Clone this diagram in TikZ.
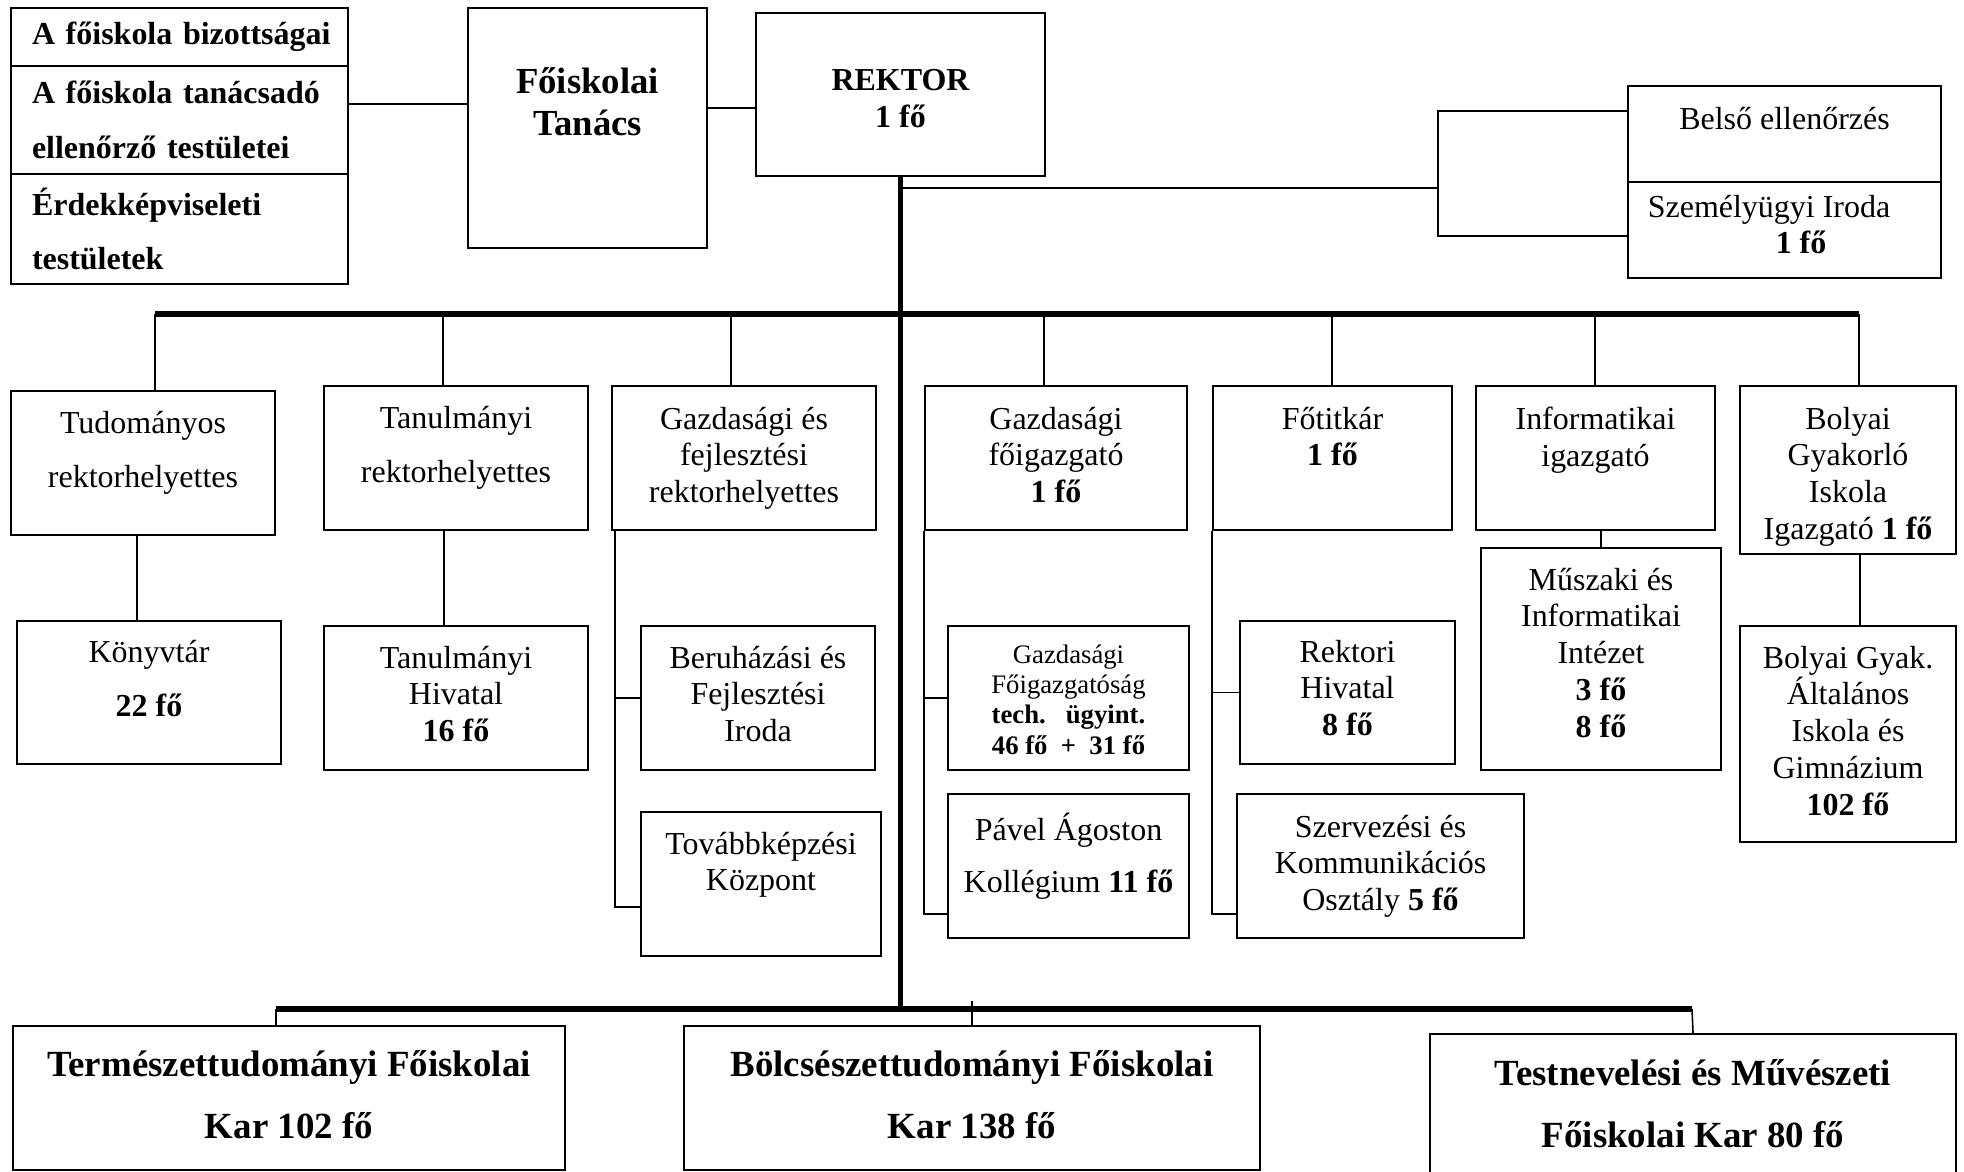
\documentclass[tikz,border=0pt]{standalone}
\usepackage{fontspec}
\setmainfont{Liberation Serif}
\tikzset{
every picture/.style={
line width=0.45pt
}}
\usetikzlibrary{positioning}

\begin{document}
\begin{tikzpicture}[
block/.style = {rectangle, draw=black, line width=0.57pt, inner sep=0pt, anchor=north west},
stack/.style = {block, align=left, text width=2.95cm, inner xsep=0.21cm, font=\fontsize{9.1}{15.6}\selectfont\bfseries},
txt/.style = {align=center, inner sep=0pt, font=\fontsize{9.1}{10.5}\selectfont},
txtwide/.style = {txt, font=\fontsize{9.1}{15.6}\selectfont},
txtbig/.style = {txt, font=\fontsize{10.5}{17.6}\selectfont\bfseries},
trunk/.style = {line width=1.45pt},
node distance = 0.2cm]

  \useasboundingbox (0,0) rectangle (19.64,-11.71);

  \node[stack, minimum height=0.58cm] (bod_a) at (0.10,-0.07) {\mbox{A főiskola bizottságai}};
  \node[stack, minimum height=1.08cm] (bod_b) at (0.10,-0.65) {\mbox{A főiskola tanácsadó}\\\mbox{ellenőrző testületei}};
  \node[stack, minimum height=1.10cm] (bod_c) at (0.10,-1.73) {Érdekképviseleti\\testületek};

  \node[block, minimum width=2.39cm, minimum height=2.40cm] (tanacs) at (4.67,-0.07) {};
  \node[txt, font=\fontsize{10.45}{12}\selectfont\bfseries] (tanacs_t) [below=0.60cm of tanacs.north] {Főiskolai\\Tanács};
  \node[block, minimum width=2.89cm, minimum height=1.63cm] (rektor) at (7.55,-0.12) {};
  \node[txt, font=\fontsize{9.1}{10.5}\selectfont\bfseries] (rektor_t) [below=0.57cm of rektor.north] {REKTOR\\1 fő};

  \node[block, minimum width=3.13cm, minimum height=0.96cm] (belso) at (16.27,-0.85) {};
  \node[txt] (belso_t) [below=0.21cm of belso.north] {Belső ellenőrzés};
  \node[block, minimum width=3.13cm, minimum height=0.96cm] (szemely) at (16.27,-1.81) {};
  \node[txt, align=left] (szemely_t) [below right=0.13cm and 0.20cm of szemely.north west] {Személyügyi Iroda\\\hspace*{4em}\textbf{1 fő}};

  \coordinate (lvl_a) at (0,-1.04);
  \coordinate (lvl_b) at (0,-1.08);
  \draw (bod_b.east |- lvl_a) -- (tanacs.west |- lvl_a);
  \draw (tanacs.east |- lvl_b) -- (rektor.west |- lvl_b);

  \coordinate (brk_top) at (14.38,-1.11);
  \coordinate (brk_mid) at (14.38,-1.88);
  \coordinate (brk_bot) at (14.38,-2.36);
  \draw (belso.west |- brk_top) -- (brk_top) -- (brk_bot) -- (szemely.west |- brk_bot);
  \draw (rektor.south |- brk_mid) -- (brk_mid);

  \coordinate (bus_a) at (1.55,-3.14);
  \coordinate (bus_b) at (4.43,-3.14);
  \coordinate (bus_c) at (7.31,-3.14);
  \coordinate (bus_d) at (10.44,-3.14);
  \coordinate (bus_e) at (13.32,-3.14);
  \coordinate (bus_f) at (15.95,-3.14);
  \coordinate (bus_g) at (18.59,-3.14);
  \coordinate (bot_a) at (2.76,-10.09);
  \coordinate (bot_c) at (16.92,-10.09);

  \draw[trunk] (bus_a) -- (bus_g);
  \draw[trunk] (rektor.south) -- (rektor.south |- bot_a);
  \draw[trunk, line width=1.6pt] (bot_a) -- (bot_c);

  \node[block, minimum width=2.64cm, minimum height=1.44cm] (tud_rh) at (0.10,-3.90) {};
  \node[txtwide] (tud_rh_t) [below=0.20cm of tud_rh.north] {Tudományos\\rektorhelyettes};
  \node[block, minimum width=2.64cm, minimum height=1.44cm] (tan_rh) at (3.23,-3.85) {};
  \node[txtwide] (tan_rh_t) [below=0.20cm of tan_rh.north] {Tanulmányi\\rektorhelyettes};
  \node[block, minimum width=2.64cm, minimum height=1.44cm] (gf_rh) at (6.11,-3.85) {};
  \node[txt] (gf_rh_t) [below=0.21cm of gf_rh.north] {Gazdasági és\\fejlesztési\\rektorhelyettes};
  \node[block, minimum width=2.62cm, minimum height=1.44cm] (g_foig) at (9.24,-3.85) {};
  \node[txt] (g_foig_t) [below=0.21cm of g_foig.north] {Gazdasági\\főigazgató\\\textbf{1 fő}};
  \node[block, minimum width=2.39cm, minimum height=1.44cm] (fotitkar) at (12.12,-3.85) {};
  \node[txt] (fotitkar_t) [below=0.21cm of fotitkar.north] {Főtitkár\\\textbf{1 fő}};
  \node[block, minimum width=2.39cm, minimum height=1.44cm] (inf_ig) at (14.75,-3.85) {};
  \node[txt] (inf_ig_t) [below=0.21cm of inf_ig.north] {Informatikai\\igazgató};
  \node[block, minimum width=2.16cm, minimum height=1.68cm] (bolyai) at (17.39,-3.85) {};
  \node[txt] (bolyai_t) [below=0.21cm of bolyai.north] {Bolyai\\Gyakorló\\Iskola\\Igazgató \textbf{1 fő}};

  \draw (bus_a) -- (bus_a |- tud_rh.north);
  \draw (bus_b) -- (bus_b |- tan_rh.north);
  \draw (bus_c) -- (bus_c |- gf_rh.north);
  \draw (bus_d) -- (bus_d |- g_foig.north);
  \draw (bus_e) -- (bus_e |- fotitkar.north);
  \draw (bus_f) -- (bus_f |- inf_ig.north);
  \draw (bus_g) -- (bus_g |- bolyai.north);

  \node[block, minimum width=2.64cm, minimum height=1.43cm] (konyvtar) at (0.16,-6.20) {};
  \node[txtwide] (konyvtar_t) [below=0.19cm of konyvtar.north] {Könyvtár\\\textbf{22 fő}};
  \node[block, minimum width=2.64cm, minimum height=1.44cm] (tan_hiv) at (3.23,-6.25) {};
  \node[txt] (tan_hiv_t) [below=0.20cm of tan_hiv.north] {Tanulmányi\\Hivatal\\\textbf{16 fő}};
  \node[block, minimum width=2.34cm, minimum height=1.44cm] (beruh) at (6.40,-6.25) {};
  \node[txt] (beruh_t) [below=0.20cm of beruh.north] {Beruházási és\\Fejlesztési\\Iroda};
  \node[block, minimum width=2.40cm, minimum height=1.44cm] (tovabb) at (6.40,-8.11) {};
  \node[txt] (tovabb_t) [below=0.20cm of tovabb.north] {Továbbképzési\\Központ};
  \node[block, minimum width=2.41cm, minimum height=1.44cm] (g_foigsag) at (9.47,-6.25) {};
  \node[txt, font=\fontsize{7.6}{8.6}\selectfont] (g_foigsag_t) [below=0.19cm of g_foigsag.north] {Gazdasági\\Főigazgatóság\\\textbf{tech.\hspace{0.75em}ügyint.}\\\textbf{46 fő\hspace{0.5em}+\hspace{0.5em}31 fő}};
  \node[block, minimum width=2.41cm, minimum height=1.44cm] (pavel) at (9.47,-7.93) {};
  \node[txt, font=\fontsize{9.1}{14.8}\selectfont] (pavel_t) [below=0.19cm of pavel.north] {Pável Ágoston\\Kollégium \textbf{11 fő}};
  \node[block, minimum width=2.15cm, minimum height=1.43cm] (rekt_hiv) at (12.39,-6.20) {};
  \node[txt] (rekt_hiv_t) [below=0.19cm of rekt_hiv.north] {Rektori\\Hivatal\\\textbf{8 fő}};
  \node[block, minimum width=2.87cm, minimum height=1.44cm] (szerv) at (12.36,-7.93) {};
  \node[txt] (szerv_t) [below=0.21cm of szerv.north] {Szervezési és\\Kommunikációs\\Osztály \textbf{5 fő}};
  \node[block, minimum width=2.40cm, minimum height=2.22cm] (muszaki) at (14.80,-5.47) {};
  \node[txt] (muszaki_t) [below=0.20cm of muszaki.north] {Műszaki és\\Informatikai\\Intézet\\\textbf{3 fő}\\\textbf{8 fő}};
  \node[block, minimum width=2.16cm, minimum height=2.16cm] (bolyai_isk) at (17.39,-6.25) {};
  \node[txt] (bolyai_isk_t) [below=0.20cm of bolyai_isk.north] {Bolyai Gyak.\\Általános\\Iskola és\\Gimnázium\\\textbf{102 fő}};

  \coordinate (gf_sp) at (6.15,-9.07);
  \coordinate (gfo_sp) at (9.24,-9.14);
  \coordinate (fot_sp) at (12.12,-9.14);

  \draw ([xshift=-0.12cm]konyvtar.north) -- ([xshift=-0.12cm]konyvtar.north |- tud_rh.south);
  \draw ([xshift=-0.12cm]tan_hiv.north) -- ([xshift=-0.12cm]tan_hiv.north |- tan_rh.south);
  \draw (gf_sp |- gf_rh.south) -- (gf_sp) -- (tovabb.west |- gf_sp);
  \draw (gf_sp |- beruh.west) -- (beruh.west);
  \draw (g_foig.south west) -- (gfo_sp) -- (pavel.west |- gfo_sp);
  \draw (gfo_sp |- g_foigsag.west) -- (g_foigsag.west);
  \draw (fotitkar.south west) -- (fot_sp) -- (szerv.west |- fot_sp);
  \draw (fot_sp |- rekt_hiv.west) -- (rekt_hiv.west);
  \draw (muszaki.north) -- (muszaki.north |- inf_ig.south);
  \draw ([xshift=0.12cm]bolyai.south) -- ([xshift=0.12cm]bolyai_isk.north);

  \node[block, minimum width=5.52cm, minimum height=1.44cm] (ttk) at (0.12,-10.25) {};
  \node[txtbig] (ttk_t) [below=0.25cm of ttk.north] {Természettudományi Főiskolai\\Kar 102 fő};
  \node[block, minimum width=5.76cm, minimum height=1.44cm] (btk) at (6.83,-10.25) {};
  \node[txtbig] (btk_t) [below=0.25cm of btk.north] {Bölcsészettudományi Főiskolai\\Kar 138 fő};
  \node[block, minimum width=5.26cm, minimum height=1.50cm] (tmk) at (14.29,-10.33) {};
  \node[txtbig] (tmk_t) [below=0.26cm of tmk.north] {Testnevelési és Művészeti\\Főiskolai Kar 80 fő};

  \draw (bot_a) -- (bot_a |- ttk.north);
  \draw (btk.north) -- ++(0,0.24);
  \draw (bot_c) -- (tmk.north);

\end{tikzpicture}
\end{document}
